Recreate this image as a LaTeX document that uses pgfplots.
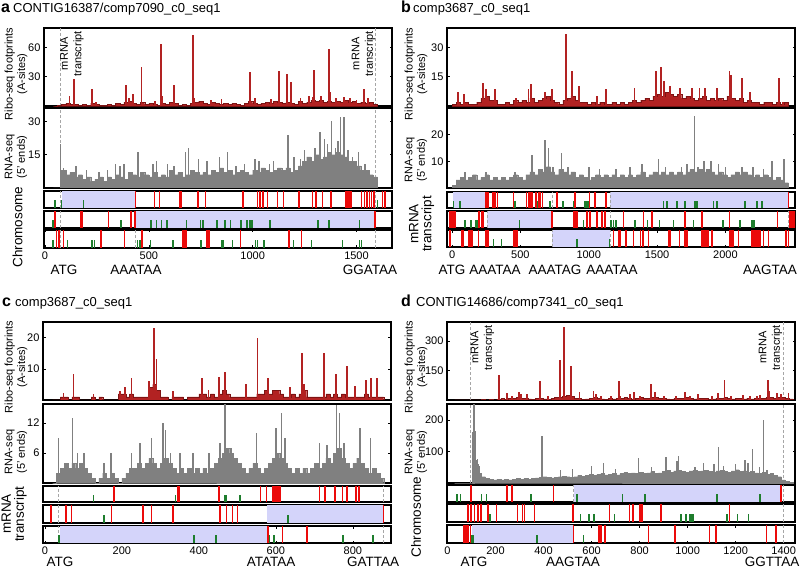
\documentclass[border=0pt]{standalone}
\usepackage{pgfplots}
\pgfplotsset{compat=1.18}
\usepackage{fontspec}
\setmainfont{Liberation Sans}
\definecolor{riboRed}{RGB}{178,34,34}
\definecolor{riboEdge}{RGB}{125,20,20}
\definecolor{rnaGrey}{RGB}{128,128,128}
\definecolor{trkRed}{RGB}{235,10,10}
\definecolor{trkGreen}{RGB}{30,125,45}
\definecolor{trkBlue}{RGB}{212,212,250}
\pgfplotsset{
 base/.style={scale only axis, anchor=north west, width=348pt,
   axis line style={line width=1.3pt}, tick style={black,line width=0.5pt},
   major tick length=2.5pt, tick align=inside,
   ticklabel style={font=\fontsize{11}{12}\selectfont},
   /pgf/number format/assume math mode=true, /pgf/number format/1000 sep={},
   xtick=\empty},
 sig/.style={base, ymin=0},
 trk/.style={base, ymin=0, ymax=1, ytick=\empty},
 ribo/.style={const plot, fill=riboRed, draw=riboEdge, line width=0.3pt, mark=none},
 rspk/.style={ycomb, draw=riboRed, line width=1.8pt, mark=none},
 rna/.style={const plot, fill=rnaGrey, draw=rnaGrey, line width=0.3pt, mark=none},
 gspk/.style={ycomb, draw=rnaGrey, line width=1.5pt, mark=none},
 stop/.style={ycomb, draw=trkRed, line width=1.6pt, mark=none},
 start/.style={ycomb, draw=trkGreen, line width=1.6pt, mark=none},
 orf/.style={fill=trkBlue, draw=none, mark=none},
 dsh/.style={densely dashed, draw=black!35, line width=0.6pt, mark=none},
}
\newcommand{\labf}{\fontsize{11}{12.5}\selectfont}
\newcommand{\sidef}{\fontsize{13.5}{13}\selectfont}
\newcommand{\seqf}{\fontsize{13.5}{14}\selectfont}
\newcommand{\ttlf}{\fontsize{13}{14}\selectfont}
\newcommand{\insf}{\fontsize{11}{13.5}\selectfont}
\newcommand{\letf}{\fontsize{16}{16}\bfseries\selectfont}
\begin{document}
\begin{tikzpicture}
\useasboundingbox (0pt,0pt) rectangle (800pt,-569pt);
% ================= panel a =================
\node[anchor=base west, inner sep=0, font=\letf] at (1pt,-13pt) {a};
\node[anchor=base west, inner sep=0, font=\ttlf] at (13pt,-13pt) {CONTIG16387/comp7090\_c0\_seq1};
\node[rotate=90, align=center, font=\labf] at (16pt,-74pt) {Ribo-seq footprints\\(A-sites)};
\node[rotate=90, align=center, font=\labf] at (16pt,-157pt) {RNA-seq\\(5' ends)};
\node[rotate=90, font=\sidef] at (17.5pt,-227pt) {Chromosome};
\begin{axis}[sig, at={(44pt,-28pt)}, height=78pt, xmin=-5, xmax=1671, ymax=80, ytick={30,60}]
\addplot[dsh] coordinates {(72,0)(72,80)};
\addplot[dsh] coordinates {(1590,0)(1590,80)};
\addplot[ribo] table[row sep=\\, header=false, x expr=40+20*\coordindex, y index=0]
{0\\1\\2\\3\\2\\2\\1\\2\\1\\3\\2\\1\\1\\2\\1\\3\\2\\4\\5\\3\\2\\4\\2\\3\\2\\1\\3\\2\\4\\3\\1\\2\\1\\3\\4\\5\\3\\2\\4\\3\\2\\3\\2\\3\\2\\1\\3\\5\\3\\2\\3\\4\\3\\5\\4\\3\\4\\3\\2\\5\\3\\4\\6\\5\\6\\4\\5\\4\\5\\4\\6\\4\\5\\3\\4\\3\\4\\2\\0\\} \closedcycle;
\addplot[rspk] coordinates {(118,10)(140,28)(226,17)(245,4)(391,22)(405,8)(424,12)(465,40)(530,5)(559,64)(565,10)(623,22)(713,73)(718,8)(800,6)(850,7)(987,35)(1010,8)(1090,7)(1126,36)(1167,33)(1186,25)(1230,8)(1270,10)(1290,9)(1296,37)(1330,10)(1367,58)(1372,14)(1400,8)(1440,9)(1470,8)(1500,6)(1538,17)(1555,8)};
\node[rotate=90, align=center, font=\insf] at (axis cs:130,53.5) {mRNA\\transcript};
\node[rotate=90, align=center, font=\insf] at (axis cs:1534,53.5) {mRNA\\transcript};
\end{axis}
\begin{axis}[sig, at={(44pt,-108pt)}, height=80pt, xmin=-5, xmax=1671, ymax=36, ytick={15,30}]
\addplot[dsh] coordinates {(72,0)(72,36)};
\addplot[dsh] coordinates {(1590,0)(1590,36)};
\addplot[rna] table[row sep=\\, header=false, x expr=40+20*\coordindex, y index=0]
{0\\0\\8\\6\\7\\5\\6\\4\\5\\3\\4\\5\\3\\5\\4\\6\\5\\4\\7\\6\\5\\7\\6\\5\\7\\5\\6\\5\\8\\6\\7\\5\\6\\8\\7\\6\\7\\6\\8\\7\\9\\7\\8\\6\\7\\8\\7\\6\\8\\7\\9\\8\\7\\8\\9\\8\\9\\7\\8\\10\\12\\14\\12\\15\\13\\14\\16\\15\\16\\15\\14\\12\\12\\10\\8\\8\\6\\5\\0\\} \closedcycle;
\addplot[gspk] coordinates {(74,20)(90,9)(150,10)(200,8)(260,7)(300,8)(340,11)(360,10)(380,11)(448,16)(520,11)(537,12)(590,11)(620,10)(676,16)(692,18)(740,13)(780,12)(840,14)(878,16)(920,10)(960,11)(1012,13)(1030,12)(1080,11)(1100,12)(1125,9)(1171,24)(1200,14)(1230,13)(1250,17)(1300,18)(1325,25)(1345,22)(1360,20)(1380,30)(1400,18)(1410,21)(1422,32)(1441,32)(1460,17)(1480,14)(1510,16)(1540,11)};
\end{axis}
\begin{axis}[trk, at={(44pt,-191pt)}, height=17pt, xmin=-5, xmax=1671]
\addplot[orf] coordinates {(80,1)(435,1)} \closedcycle;
\addplot[dsh] coordinates {(72,0)(72,1)};
\addplot[dsh] coordinates {(435,0)(435,1)};
\addplot[dsh] coordinates {(1590,0)(1590,1)};
\addplot[start] coordinates {(48,0.45)(80,0.45)(185,0.45)(1602,0.45)};
\addplot[stop] coordinates {(435,1)(527,1)(551,1)(647,1)(655,1)(736,1)(773,1)(953,1)(1023,1)(1035,1)(1050,1)(1071,1)(1119,1)(1148,1)(1224,1)(1288,1)(1304,1)(1337,1)(1377,1)(1449,1)(1457,1)(1465,1)(1473,1)(1525,1)(1538,1)(1551,1)(1562,1)(1573,1)(1583,1)(1626,1)(1638,1)};
\end{axis}
\begin{axis}[trk, at={(44pt,-211pt)}, height=17pt, xmin=-5, xmax=1671]
\addplot[orf] coordinates {(435,1)(1583,1)} \closedcycle;
\addplot[dsh] coordinates {(72,0)(72,1)};
\addplot[dsh] coordinates {(435,0)(435,1)};
\addplot[dsh] coordinates {(1590,0)(1590,1)};
\addplot[start] coordinates {(37,0.45)(366,0.45)(510,0.45)(536,0.45)(560,0.45)(588,0.45)(681,0.45)(749,0.45)(762,0.45)(829,0.45)(866,0.45)(894,0.45)(945,0.45)(974,0.45)(987,0.45)(998,0.45)(1084,0.45)(1316,0.45)(1369,0.45)(1514,0.45)};
\addplot[stop] coordinates {(48,1)(174,1)(180,1)(306,1)(415,1)(432,1)(1589,1)};
\end{axis}
\begin{axis}[trk, at={(44pt,-230pt)}, height=18pt, xmin=-5, xmax=1671, xtick={0,500,1000,1500}]
\addplot[dsh] coordinates {(72,0)(72,1)};
\addplot[dsh] coordinates {(435,0)(435,1)};
\addplot[dsh] coordinates {(1590,0)(1590,1)};
\addplot[start] coordinates {(37,0.45)(108,0.45)(227,0.45)(238,0.45)(446,0.45)(456,0.45)(507,0.45)(617,0.45)(752,0.45)(849,0.45)(857,0.45)(902,0.45)(1014,0.45)(1023,0.45)(1055,0.45)(1197,0.45)(1283,0.45)(1433,0.45)(1514,0.45)(1525,0.45)};
\addplot[stop] coordinates {(56,1)(66,1)(89,1)(269,1)(382,1)(467,1)(665,1)(672,1)(680,1)(781,1)(789,1)(942,1)(1176,1)(1235,1)};
\end{axis}
\node[anchor=base, font=\seqf] at (64pt,-274pt) {ATG};
\node[anchor=base, font=\seqf] at (136pt,-274pt) {AAATAA};
\node[anchor=base, font=\seqf] at (370pt,-274pt) {GGATAA};
% ================= panel b =================
\node[anchor=base west, inner sep=0, font=\letf] at (401pt,-13pt) {b};
\node[anchor=base west, inner sep=0, font=\ttlf] at (413pt,-13pt) {comp3687\_c0\_seq1};
\node[rotate=90, align=center, font=\labf] at (416pt,-74pt) {Ribo-seq footprints\\(A-sites)};
\node[rotate=90, align=center, font=\labf] at (416pt,-160pt) {RNA-seq\\(5' ends)};
\node[rotate=90, align=center, font=\sidef, inner sep=0, anchor=north] at (409pt,-224pt) {mRNA\\transcript};
\begin{axis}[sig, at={(447pt,-28pt)}, height=78pt, xmin=-37, xmax=2509, ymax=40, ytick={15,30}]
\addplot[ribo] table[row sep=\\, header=false, x expr=30*\coordindex, y index=0]
{1\\2\\1\\2\\1\\1\\2\\4\\5\\3\\3\\1\\1\\2\\1\\3\\2\\3\\2\\4\\2\\3\\4\\5\\3\\2\\1\\3\\4\\5\\3\\2\\2\\1\\2\\1\\2\\1\\1\\2\\1\\2\\1\\2\\3\\2\\3\\4\\3\\5\\6\\5\\7\\6\\5\\6\\4\\5\\4\\3\\4\\5\\3\\4\\3\\4\\3\\5\\4\\3\\4\\2\\3\\2\\2\\1\\2\\2\\1\\2\\1\\2\\0\\} \closedcycle;
\addplot[rspk] coordinates {(46,7)(88,6)(224,12)(249,8.6)(315,8.6)(468,4)(559,8.6)(576,11.5)(680,7)(729,8.6)(832,37)(878,18)(929,10)(1059,5)(1127,8.6)(1334,9.4)(1493,18)(1529,20)(1551,13)(1595,10)(1668,9)(1754,9.4)(1810,9)(1851,9.4)(1937,9)(2029,18)(2041,16)(2120,14.5)(2180,7)(2393,14.5)(2424,2)};
\end{axis}
\begin{axis}[sig, at={(447pt,-108pt)}, height=80pt, xmin=-37, xmax=2509, ymax=30, ytick={10,20}]
\addplot[rna] table[row sep=\\, header=false, x expr=30*\coordindex, y index=0]
{1\\3\\4\\3\\4\\5\\3\\4\\5\\3\\4\\3\\4\\3\\4\\5\\4\\3\\5\\6\\5\\7\\6\\8\\6\\5\\7\\6\\5\\6\\4\\5\\4\\3\\4\\5\\4\\5\\4\\5\\4\\5\\4\\5\\4\\5\\6\\4\\5\\6\\5\\6\\5\\6\\5\\6\\5\\6\\7\\6\\7\\6\\7\\6\\5\\6\\5\\4\\5\\6\\5\\6\\5\\4\\5\\4\\5\\4\\3\\4\\3\\2\\0\\} \closedcycle;
\addplot[gspk] coordinates {(95,6)(250,6)(460,6)(583,12.5)(640,7)(680,18)(705,15)(740,8)(802,13)(850,8)(1000,8)(1080,7)(1200,7)(1300,8)(1390,9)(1510,11)(1560,8)(1680,8)(1720,9)(1773,27)(1800,8)(1844,10)(1893,10)(1950,9)(2000,8)(2120,8)(2200,8)(2280,7)(2339,10)(2429,11)};
\end{axis}
\begin{axis}[trk, at={(447pt,-192pt)}, height=16pt, xmin=-37, xmax=2509]
\addplot[orf] coordinates {(10,1)(241,1)} \closedcycle;
\addplot[orf] coordinates {(1156,1)(2461,1)} \closedcycle;
\addplot[dsh] coordinates {(256,0)(256,1)};
\addplot[dsh] coordinates {(730,0)(730,1)};
\addplot[dsh] coordinates {(1156,0)(1156,1)};
\addplot[dsh] coordinates {(2458,0)(2458,1)};
\addplot[start] coordinates {(10,0.45)(58,0.45)(461,0.45)(624,0.45)(717,0.45)(810,0.45)(888,0.45)(973,0.45)(985,0.45)(998,0.45)(1546,0.45)(1571,0.45)(1644,0.45)(1705,0.45)(1778,0.45)(1790,0.45)(1912,0.45)(1937,0.45)(2144,0.45)(2229,0.45)(2266,0.45)};
\addplot[stop] coordinates {(249,1)(261,1)(298,1)(315,1)(332,1)(449,1)(546,1)(559,1)(571,1)(583,1)(615,1)(632,1)(644,1)(663,1)(766,1)(900,1)(1005,1)(1046,1)(1127,1)(2461,1)};
\end{axis}
\begin{axis}[trk, at={(447pt,-211pt)}, height=17pt, xmin=-37, xmax=2509]
\addplot[orf] coordinates {(259,1)(729,1)} \closedcycle;
\addplot[dsh] coordinates {(256,0)(256,1)};
\addplot[dsh] coordinates {(730,0)(730,1)};
\addplot[dsh] coordinates {(1156,0)(1156,1)};
\addplot[dsh] coordinates {(2458,0)(2458,1)};
\addplot[start] coordinates {(95,0.45)(139,0.45)(176,0.45)(188,0.45)(493,0.45)(961,0.45)(1161,0.45)(1180,0.45)(1200,0.45)(1339,0.45)(1429,0.45)(1517,0.45)(1620,0.45)(1766,0.45)(1980,0.45)(2107,0.45)(2193,0.45)(2210,0.45)};
\addplot[stop] coordinates {(-15,1)(-2,1)(10,1)(22,1)(198,1)(217,1)(229,1)(729,1)(888,1)(900,1)(912,1)(985,1)(1010,1)(1059,1)(1095,1)(1120,1)(1254,1)(1400,1)(1461,1)(1705,1)(1827,1)(2029,1)(2380,1)(2473,1)(2485,1)(2498,1)(2510,1)};
\end{axis}
\begin{axis}[trk, at={(447pt,-230pt)}, height=17pt, xmin=-37, xmax=2509, xtick={0,500,1000,1500,2000}]
\addplot[orf] coordinates {(729,1)(1156,1)} \closedcycle;
\addplot[dsh] coordinates {(256,0)(256,1)};
\addplot[dsh] coordinates {(730,0)(730,1)};
\addplot[dsh] coordinates {(1156,0)(1156,1)};
\addplot[dsh] coordinates {(2458,0)(2458,1)};
\addplot[start] coordinates {(302,0.45)(363,0.45)(912,0.45)(1151,0.45)};
\addplot[stop] coordinates {(-15,1)(71,1)(83,1)(120,1)(132,1)(144,1)(193,1)(249,1)(261,1)(449,1)(461,1)(473,1)(1180,1)(1217,1)(1229,1)(1273,1)(1327,1)(1380,1)(1395,1)(1437,1)(1583,1)(1595,1)(1663,1)(1705,1)(1717,1)(1827,1)(1839,1)(1851,1)(1863,1)(1876,1)(1900,1)(2034,1)(2046,1)(2059,1)(2095,1)(2193,1)(2205,1)(2217,1)(2229,1)(2241,1)(2254,1)(2278,1)(2315,1)(2444,1)(2461,1)};
\end{axis}
\node[anchor=base, font=\seqf] at (452pt,-274pt) {ATG};
\node[anchor=base, font=\seqf] at (495pt,-274pt) {AAATAA};
\node[anchor=base, font=\seqf] at (555pt,-274pt) {AAATAG};
\node[anchor=base, font=\seqf] at (612pt,-274pt) {AAATAA};
\node[anchor=base, font=\seqf] at (770pt,-274pt) {AAGTAA};
% ================= panel c =================
\node[anchor=base west, inner sep=0, font=\letf] at (2pt,-306pt) {c};
\node[anchor=base west, inner sep=0, font=\ttlf] at (15pt,-306pt) {comp3687\_c0\_seq1};
\node[rotate=90, align=center, font=\labf] at (16pt,-367pt) {Ribo-seq footprints\\(A-sites)};
\node[rotate=90, align=center, font=\labf] at (16pt,-452pt) {RNA-seq\\(5' ends)};
\node[rotate=90, align=center, font=\sidef, inner sep=0, anchor=north] at (1.5pt,-514pt) {mRNA\\transcript};
\begin{axis}[sig, at={(43pt,-322pt)}, height=78pt, xmin=-5, xmax=899, ymax=25, ytick={10,20}]
\addplot[ribo] table[row sep=\\, header=false, x expr=20+10*\coordindex, y index=0]
{0\\0\\1\\1\\0\\1\\1\\0\\0\\0\\1\\0\\1\\0\\0\\0\\0\\2\\2\\1\\2\\1\\1\\1\\1\\4\\5\\3\\1\\1\\0\\1\\1\\1\\0\\1\\1\\1\\2\\2\\1\\2\\1\\2\\3\\2\\1\\1\\1\\1\\1\\1\\1\\2\\2\\3\\2\\3\\3\\2\\1\\1\\2\\1\\2\\3\\1\\1\\1\\1\\1\\2\\1\\2\\1\\2\\1\\1\\1\\1\\1\\2\\1\\1\\1\\1\\0\\} \closedcycle;
\addplot[rspk] coordinates {(48,2.2)(74,8.2)(126,2)(195,3)(208,4.2)(225,7.2)(271,6)(283,23)(290,13)(333,3)(407,7.2)(425,3.3)(453,7.4)(468,9)(522,5)(552,20)(580,7.2)(636,4.3)(667,15)(672,5)(725,15)(756,8.2)(785,11)(805,4.5)(834,6.4)(848,7.2)(862,7)};
\end{axis}
\begin{axis}[sig, at={(43pt,-404pt)}, height=79pt, xmin=-5, xmax=899, ymax=15.8, ytick={6,12}]
\addplot[rna] table[row sep=\\, header=false, x expr=20+10*\coordindex, y index=0]
{0\\2\\3\\4\\3\\4\\3\\4\\3\\2\\1\\0\\1\\2\\1\\2\\1\\0\\1\\2\\3\\3\\4\\3\\4\\5\\4\\3\\4\\5\\4\\3\\2\\3\\2\\3\\2\\3\\2\\3\\2\\3\\4\\5\\6\\7\\6\\5\\4\\3\\2\\3\\4\\3\\2\\3\\4\\5\\6\\5\\4\\3\\2\\3\\2\\3\\2\\3\\4\\3\\4\\5\\4\\6\\7\\5\\4\\3\\4\\5\\4\\3\\2\\3\\2\\1\\0\\} \closedcycle;
\addplot[gspk] coordinates {(35,9)(72,13)(84,6)(101,6)(153,4)(171,6)(225,6)(247,8)(277,9)(307,12)(313,10.7)(326,6)(351,6)(385,6)(426,6)(455,8)(468,15.8)(485,7)(550,10)(600,11)(615,14)(623,9)(713,8)(733,7.7)(758,15.7)(765,14)(777,8)(818,11)(846,9)};
\end{axis}
\begin{axis}[trk, at={(43pt,-486pt)}, height=16pt, xmin=-5, xmax=899]
\addplot[dsh] coordinates {(36,0)(36,1)};
\addplot[dsh] coordinates {(878,0)(878,1)};
\addplot[start] coordinates {(126,0.45)(339,0.45)(466,0.45)(470,0.45)(507,0.45)};
\addplot[stop] coordinates {(180,1)(346,1)(349,1)(452,1)(560,1)(576,1)(593,1)(597,1)(601,1)(606,1)(610,1)(713,1)(728,1)(753,1)(773,1)(785,1)(808,1)(816,1)};
\end{axis}
\begin{axis}[trk, at={(43pt,-505pt)}, height=18pt, xmin=-5, xmax=899]
\addplot[orf] coordinates {(576,1)(879,1)} \closedcycle;
\addplot[dsh] coordinates {(36,0)(36,1)};
\addplot[dsh] coordinates {(878,0)(878,1)};
\addplot[start] coordinates {(153,0.45)(632,0.45)};
\addplot[stop] coordinates {(16,1)(55,1)(69,1)(173,1)(254,1)(277,1)(332,1)(455,1)(472,1)(487,1)(500,1)(879,1)};
\end{axis}
\begin{axis}[trk, at={(43pt,-526pt)}, height=17pt, xmin=-5, xmax=899, xtick={0,200,400,600,800}]
\addplot[orf] coordinates {(39,1)(580,1)} \closedcycle;
\addplot[dsh] coordinates {(36,0)(36,1)};
\addplot[dsh] coordinates {(878,0)(878,1)};
\addplot[start] coordinates {(36,0.45)(388,0.45)(444,0.45)(583,0.45)(595,0.45)(775,0.45)(853,0.45)};
\addplot[stop] coordinates {(580,1)(617,1)(681,1)};
\end{axis}
\node[anchor=base, font=\seqf] at (60pt,-566.5pt) {ATG};
\node[anchor=base, font=\seqf] at (271pt,-566.5pt) {ATATAA};
\node[anchor=base, font=\seqf] at (373pt,-566.5pt) {GATTAA};
% ================= panel d =================
\node[anchor=base west, inner sep=0, font=\letf] at (401pt,-306pt) {d};
\node[anchor=base west, inner sep=0, font=\ttlf] at (416pt,-306pt) {CONTIG14686/comp7341\_c0\_seq1};
\node[rotate=90, align=center, font=\labf] at (416pt,-367pt) {Ribo-seq footprints\\(A-sites)};
\node[rotate=90, align=center, font=\labf] at (416pt,-452pt) {RNA-seq\\(5' ends)};
\node[rotate=90, font=\sidef] at (416pt,-517pt) {Chromosome};
\begin{axis}[sig, at={(447pt,-322pt)}, height=78pt, xmin=-2, xmax=1447, ymax=395, ytick={150,300}]
\addplot[dsh] coordinates {(93,0)(93,395)};
\addplot[dsh] coordinates {(1400,0)(1400,395)};
\addplot[ribo] table[row sep=\\, header=false, x expr=30+16*\coordindex, y index=0]
{0\\0\\0\\0\\1\\0\\1\\2\\1\\2\\1\\3\\8\\5\\10\\8\\12\\10\\8\\6\\5\\8\\10\\6\\5\\8\\12\\15\\20\\25\\18\\10\\8\\5\\6\\8\\12\\10\\6\\5\\7\\6\\8\\10\\12\\8\\6\\10\\12\\8\\10\\12\\15\\10\\8\\6\\5\\7\\8\\10\\12\\8\\6\\8\\10\\7\\5\\6\\8\\10\\12\\8\\6\\8\\7\\6\\8\\6\\7\\8\\10\\12\\15\\10\\12\\15\\10\\6\\0\\} \closedcycle;
\addplot[rspk] coordinates {(213,125)(248,35)(270,20)(297,38)(305,30)(330,30)(384,97)(420,20)(467,205)(484,372)(514,172)(550,38)(608,47)(620,30)(640,20)(680,20)(715,97)(720,18)(761,30)(778,38)(800,20)(847,83)(865,38)(900,18)(950,20)(990,42)(1010,20)(1042,30)(1100,22)(1128,33)(1153,100)(1180,20)(1230,25)(1260,20)(1290,22)(1300,25)(1333,102)(1340,47)(1371,35)(1390,30)(1420,35)};
\node[rotate=90, align=center, font=\insf] at (axis cs:146,265) {mRNA\\transcript};
\node[rotate=90, align=center, font=\insf] at (axis cs:1345,265) {mRNA\\transcript};
\end{axis}
\begin{axis}[sig, at={(447pt,-404pt)}, height=79pt, xmin=-2, xmax=1447, ymax=250, ytick={100,200}]
\addplot[dsh] coordinates {(93,0)(93,250)};
\addplot[dsh] coordinates {(1400,0)(1400,250)};
\addplot[rna] table[row sep=\\, header=false, x expr=30+16*\coordindex, y index=0]
{0\\0\\0\\0\\0\\60\\30\\20\\15\\12\\10\\12\\10\\12\\10\\12\\14\\12\\15\\12\\14\\16\\18\\20\\18\\16\\18\\20\\22\\20\\18\\20\\24\\22\\25\\28\\24\\28\\30\\26\\28\\30\\26\\30\\34\\30\\32\\30\\34\\30\\32\\36\\30\\32\\36\\40\\34\\38\\40\\36\\34\\38\\40\\36\\38\\40\\36\\34\\38\\40\\36\\34\\38\\42\\36\\38\\34\\36\\32\\30\\34\\28\\30\\24\\20\\10\\5\\2\\0\\} \closedcycle;
\addplot[gspk] coordinates {(104,160)(108,250)(112,250)(116,163)(121,74)(126,76)(132,53)(394,150)(470,42)(520,45)(600,55)(650,63)(700,45)(796,79)(850,50)(909,82)(955,70)(962,87)(1030,50)(1066,63)(1110,60)(1128,114)(1150,55)(1200,60)(1239,74)(1252,63)(1271,108)(1300,50)(1315,200)(1330,40)};
\end{axis}
\begin{axis}[trk, at={(447pt,-485pt)}, height=17pt, xmin=-2, xmax=1447]
\addplot[orf] coordinates {(525,1)(1389,1)} \closedcycle;
\addplot[dsh] coordinates {(93,0)(93,1)};
\addplot[dsh] coordinates {(525,0)(525,1)};
\addplot[dsh] coordinates {(1400,0)(1400,1)};
\addplot[start] coordinates {(40,0.45)(54,0.45)(141,0.45)(162,0.45)(348,0.45)(539,0.45)(729,0.45)(823,0.45)(1121,0.45)(1301,0.45)};
\addplot[stop] coordinates {(98,1)(248,1)(269,1)(442,1)(1389,1)};
\end{axis}
\begin{axis}[trk, at={(447pt,-504pt)}, height=18pt, xmin=-2, xmax=1447]
\addplot[dsh] coordinates {(93,0)(93,1)};
\addplot[dsh] coordinates {(525,0)(525,1)};
\addplot[dsh] coordinates {(1400,0)(1400,1)};
\addplot[start] coordinates {(176,0.45)(553,0.45)(588,0.45)(611,0.45)(696,0.45)(972,0.45)(994,0.45)(1010,0.45)(1017,0.45)(1024,0.45)(1163,0.45)(1207,0.45)(1253,0.45)};
\addplot[stop] coordinates {(86,1)(98,1)(112,1)(128,1)(140,1)(168,1)(204,1)(292,1)(313,1)(321,1)(363,1)(523,1)(675,1)(758,1)(772,1)(800,1)(805,1)(811,1)(888,1)(1174,1)};
\end{axis}
\begin{axis}[trk, at={(447pt,-525pt)}, height=18pt, xmin=-2, xmax=1447, xtick={0,200,400,600,800,1000,1200,1400}]
\addplot[orf] coordinates {(103,1)(525,1)} \closedcycle;
\addplot[dsh] coordinates {(93,0)(93,1)};
\addplot[dsh] coordinates {(525,0)(525,1)};
\addplot[dsh] coordinates {(1400,0)(1400,1)};
\addplot[start] coordinates {(103,0.45)(109,0.45)(373,0.45)(567,0.45)};
\addplot[stop] coordinates {(68,1)(78,1)(86,1)(96,1)(525,1)(632,1)(640,1)(657,1)(837,1)(948,1)(1091,1)(1118,1)(1329,1)(1368,1)};
\end{axis}
\node[anchor=base, font=\seqf] at (474pt,-566.5pt) {ATG};
\node[anchor=base, font=\seqf] at (573pt,-566.5pt) {AAGTAA};
\node[anchor=base, font=\seqf] at (772pt,-566.5pt) {GGTTAA};
\end{tikzpicture}
\end{document}
